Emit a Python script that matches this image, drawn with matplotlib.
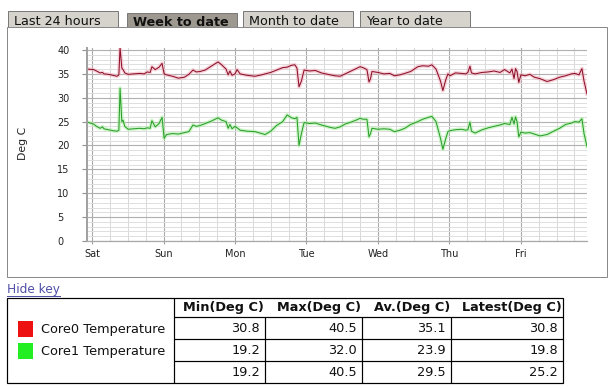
import matplotlib
matplotlib.use('Agg')
import matplotlib.pyplot as plt
from matplotlib.patches import Rectangle
from matplotlib.ticker import MultipleLocator, FixedLocator

plt.rcParams['font.family'] = ['DejaVu Sans']

# data: hours since Saturday 00:00
hours = [-1.7, 0.5, 1.5, 2.7, 3.5, 4, 5.5, 7, 8.4, 9.0, 9.4, 10.0, 10.4, 11, 12.1, 14, 16,
         17.5, 18.5, 19.5, 20.1, 21.2, 22.5, 23.5, 24.2, 25, 27, 29, 31, 32.5, 33.9, 35,
         36.3, 38, 40, 42.3, 43.5, 45, 45.7, 46.3, 47, 48, 48.7, 49.7, 52, 54.7, 57, 58.1,
         60, 62, 64, 65.5, 67, 68.1, 68.8, 69.5, 70.3, 71.2, 73, 75, 77, 79.9, 81.6, 83.3,
         85, 87, 89, 90, 91, 92.3, 93.0, 93.5, 94.0, 96, 98, 100, 101.5, 103.4, 105, 107,
         109.4, 111, 113, 114.1, 115.5, 117.0, 117.8, 118.8, 119.5, 120.2, 122, 124, 125.5,
         126.2, 126.9, 127.4, 128.6, 131, 133, 135, 137, 138.5, 140.3, 141.0, 141.7, 142.2,
         142.7, 143.3, 144, 145.4, 147, 148.5, 150.4, 152.8, 155, 157, 159, 161, 162.1,
         163.5, 164.5, 165.2, 166.2]

core0 = [36.0, 35.9, 35.6, 35.2, 35.3, 35.0, 34.9, 34.7, 34.5, 34.8, 40.5, 36.2, 35.9, 35.2,
         34.9, 35.0, 35.1, 35.0, 35.4, 35.3, 36.5, 35.9, 36.4, 37.2, 35.0, 34.8, 34.5, 34.1,
         34.3, 34.9, 35.8, 35.4, 35.5, 35.8, 36.6, 37.5, 36.9, 36.0, 34.8, 35.6, 34.7, 35.0,
         35.9, 35.0, 34.7, 34.5, 34.8, 35.0, 35.3, 35.8, 36.3, 36.4, 36.8, 36.9, 36.2, 32.3,
         33.5, 35.8, 35.6, 35.7, 35.2, 34.8, 34.6, 34.5, 35.0, 35.6, 36.2, 36.5, 36.3, 35.9,
         33.3, 34.0, 35.5, 35.3, 35.0, 35.1, 34.6, 34.8, 35.1, 35.5, 36.5, 36.7, 36.6, 36.9,
         36.0, 33.5, 31.5, 33.8, 35.0, 34.6, 35.2, 35.1, 35.0, 35.3, 36.6, 35.2, 35.0, 35.3,
         35.4, 35.6, 35.3, 35.9, 35.2, 36.0, 34.0, 36.1, 35.5, 33.2, 34.8, 34.6, 34.9, 34.3,
         34.0, 33.4, 33.8, 34.3, 34.6, 35.0, 35.1, 34.8, 36.1, 33.5, 30.8]

core1 = [24.9, 24.5, 24.0, 23.6, 23.9, 23.5, 23.3, 23.1, 23.0, 23.2, 32.0, 25.0, 25.3, 24.0,
         23.4, 23.5, 23.6, 23.5, 23.7, 23.6, 25.2, 23.9, 24.6, 25.9, 21.5, 22.3, 22.5, 22.4,
         22.7, 22.9, 24.3, 24.0, 24.2, 24.6, 25.1, 25.8, 25.3, 25.0, 23.6, 24.4, 23.5, 24.0,
         23.7, 23.2, 23.0, 22.9, 22.5, 22.3, 23.0, 24.2, 25.0, 26.4, 25.8, 25.6, 25.9, 20.0,
         22.5, 24.8, 24.6, 24.7, 24.3, 23.8, 23.6, 23.9, 24.5, 24.9, 25.4, 25.7, 25.5, 25.5,
         21.8, 22.5, 23.6, 23.4, 23.5, 23.4, 22.9, 23.2, 23.6, 24.4, 25.0, 25.5, 25.9, 26.1,
         25.0, 21.5, 19.2, 21.5, 22.9, 23.1, 23.3, 23.4, 23.2, 23.3, 24.9, 23.0, 22.6, 23.3,
         23.7, 24.0, 24.3, 24.6, 24.4, 25.9, 24.5, 26.0, 25.0, 21.8, 22.8, 22.6, 22.7, 22.4,
         22.0, 22.3, 23.0, 23.6, 24.4, 24.7, 25.0, 24.9, 25.6, 22.5, 19.8]

day_labels = ['Sat', 'Sun', 'Mon', 'Tue', 'Wed', 'Thu', 'Fri']
tab_labels = ['Last 24 hours', 'Week to date', 'Month to date', 'Year to date']
active_tab = 'Week to date'

series_names = ['Core0 Temperature', 'Core1 Temperature']
series_colors = ['#ee1111', '#22ee22']
table_headers = ['Min(Deg C)', 'Max(Deg C)', 'Av.(Deg C)', 'Latest(Deg C)']
table_rows = [
    ['30.8', '40.5', '35.1', '30.8'],
    ['19.2', '32.0', '23.9', '19.8'],
    ['19.2', '40.5', '29.5', '25.2'],
]

W, H = 614, 389
fig = plt.figure(figsize=(W / 100, H / 100), dpi=100)
fig.patch.set_facecolor('white')

# page layer in pixel coordinates
bg = fig.add_axes([0, 0, 1, 1])
bg.set_xlim(0, W)
bg.set_ylim(H, 0)
bg.axis('off')

px = 0.72  # one pixel in points

# tabs
tab_x = [8, 127, 243, 360]
tab_w = 110
for x0, label in zip(tab_x, tab_labels):
    active = label == active_tab
    top = 13 if active else 11
    bg.add_patch(Rectangle((x0, top), tab_w, 27 - top,
                           facecolor='#9d9990' if active else '#d6d3cc',
                           edgecolor='#7a7a7a', lw=px))
    bg.text(x0 + 6, 21 if not active else 22, label, fontsize=9.2,
            fontweight='bold' if active else 'normal',
            ha='left', va='center', color='#111111')

# chart box
bg.add_patch(Rectangle((7, 27), 600, 250, facecolor='white', edgecolor='#8a8a8a', lw=px))
bg.text(23, 143, 'Deg C', rotation=90, fontsize=7.8, ha='center', va='center', color='#222222')

# hide key link
bg.text(7, 289, 'Hide key', fontsize=8.7, ha='left', va='center', color='#5050a8')
bg.plot([7, 60], [295.5, 295.5], color='#5050a8', lw=px)

# key table
cols = [7, 174, 265, 362, 451, 563]
rows = [298, 317, 339, 361, 383]
line_kw = dict(color='black', lw=px * 1.2, solid_capstyle='butt')
bg.add_patch(Rectangle((cols[0], rows[0]), cols[-1] - cols[0], rows[-1] - rows[0],
                       facecolor='white', edgecolor='black', lw=px * 1.2))
bg.plot([cols[1], cols[1]], [rows[0], rows[-1]], **line_kw)
for y in rows[1:-1]:
    bg.plot([cols[1], cols[-1]], [y, y], **line_kw)
for x in cols[2:-1]:
    bg.plot([x, x], [rows[1], rows[-1]], **line_kw)

for i, head in enumerate(table_headers):
    bg.text(cols[i + 2] - 1, (rows[0] + rows[1]) / 2 + 0.5, head, fontsize=9.3,
            fontweight='bold', ha='right', va='center', color='#111111')
for r, row in enumerate(table_rows):
    yc = (rows[r + 1] + rows[r + 2]) / 2 + 0.5
    for i, val in enumerate(row):
        bg.text(cols[i + 2] - 5, yc, val, fontsize=9.3, ha='right', va='center',
                color='#111111')

for k, (name, col) in enumerate(zip(series_names, series_colors)):
    yc = 329 + 22 * k
    bg.add_patch(Rectangle((18, yc - 8), 15, 16, facecolor=col, edgecolor='none'))
    bg.text(41, yc + 0.5, name, fontsize=9.3, ha='left', va='center', color='#111111')

# chart
ax = fig.add_axes([87 / W, (H - 241) / H, 500 / W, 193.4 / H])
ax.set_facecolor('white')
ax.set_xlim(-1.7, 166.2)
ax.set_ylim(0, 40.5)

ax.xaxis.set_major_locator(FixedLocator([24 * i for i in range(7)]))
ax.set_xticklabels(day_labels)
ax.xaxis.set_minor_locator(MultipleLocator(6))
ax.yaxis.set_major_locator(MultipleLocator(5))
ax.yaxis.set_minor_locator(MultipleLocator(1))

ax.grid(which='major', axis='y', color='#b0b0b0', lw=0.8)
ax.grid(which='minor', axis='y', color='#dedede', lw=0.7)
ax.grid(which='major', axis='x', color='#aaaaaa', lw=0.8)
ax.grid(which='minor', axis='x', color='#d8d8d8', lw=0.7)
ax.set_axisbelow(True)

for side in ['top', 'right']:
    ax.spines[side].set_visible(False)
ax.spines['left'].set_color('#a0a0a0')
ax.spines['left'].set_linewidth(1.4)
ax.spines['bottom'].set_color('#a8a8a8')
ax.spines['bottom'].set_linewidth(0.9)

ax.tick_params(axis='y', which='major', length=3.5, color='#909090', labelsize=7,
               labelcolor='#222222', pad=18)
ax.tick_params(axis='y', which='minor', length=0)
ax.tick_params(axis='x', which='major', length=2.5, color='#a0a0a0', labelsize=7,
               labelcolor='#222222', pad=3)
ax.tick_params(axis='x', which='minor', length=0)
for lbl in ax.get_yticklabels():
    lbl.set_horizontalalignment('left')

# soft glow under each line
ax.plot(hours, core0, color='#f4b4c2', lw=2.8, alpha=0.6, solid_joinstyle='round')
ax.plot(hours, core0, color='#8c1028', lw=0.75)
ax.plot(hours, core1, color='#b0f0a8', lw=2.8, alpha=0.6, solid_joinstyle='round')
ax.plot(hours, core1, color='#2a9e2a', lw=0.75)

fig.savefig('out.png', dpi=100)
